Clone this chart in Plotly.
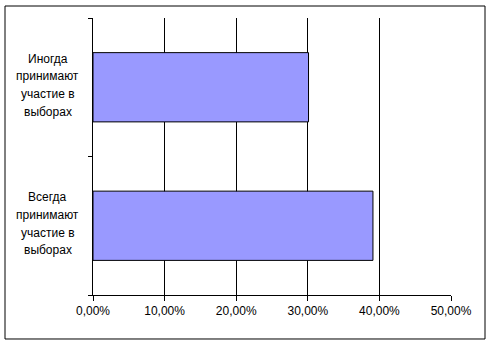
import plotly.graph_objects as go

categories = ["Всегда принимают участие в выборах", "Иногда принимают участие в выборах"]
label_lines = [["Всегда", "принимают", "участие в", "выборах"],
               ["Иногда", "принимают", "участие в", "выборах"]]
values = [0.391, 0.301]
x_ticks = [0, 0.1, 0.2, 0.3, 0.4, 0.5]

fig = go.Figure()
fig.add_trace(go.Bar(
    y=categories, x=values, orientation="h",
    marker=dict(color="#9999FF", line=dict(color="black", width=1)),
    width=0.5,
))

line_gap = 17.6
for c, lines in zip(categories, label_lines):
    n = len(lines)
    for i, ln in enumerate(lines):
        fig.add_annotation(
            x=-0.1257, xref="paper", y=c, yref="y", text=ln, showarrow=False,
            xanchor="center", yanchor="middle", align="center",
            yshift=2 + ((n - 1) / 2 - i) * line_gap,
            font=dict(family="Arial, Liberation Sans", size=12, color="#000000"),
        )

fig.add_shape(type="rect", xref="paper", yref="paper",
              x0=-0.2458, x1=1.0950, y0=-0.1588, y1=1.0433,
              line=dict(color="black", width=1), fillcolor="rgba(0,0,0,0)", layer="below")

fig.update_layout(
    width=491, height=347,
    margin=dict(l=93, r=40, t=18, b=52),
    paper_bgcolor="white", plot_bgcolor="white",
    separators=", ",
    showlegend=False,
    font=dict(family="Arial, Liberation Sans", size=12, color="#000000"),
    xaxis=dict(
        range=[0, 0.5], tickvals=x_ticks, tickformat=".2%",
        showgrid=True, gridcolor="black", gridwidth=1,
        showline=True, linecolor="black", linewidth=1,
        ticks="outside", ticklen=5, tickcolor="black",
        zeroline=False, fixedrange=True,
    ),
    yaxis=dict(
        showticklabels=False, showgrid=False,
        showline=True, linecolor="black", linewidth=1,
        ticks="outside", ticklen=4, tickcolor="black",
        tickmode="array", tickvals=[-0.5, 0.5, 1.5],
        range=[-0.5, 1.5], zeroline=False, fixedrange=True,
    ),
)

fig.write_html("out.html")
